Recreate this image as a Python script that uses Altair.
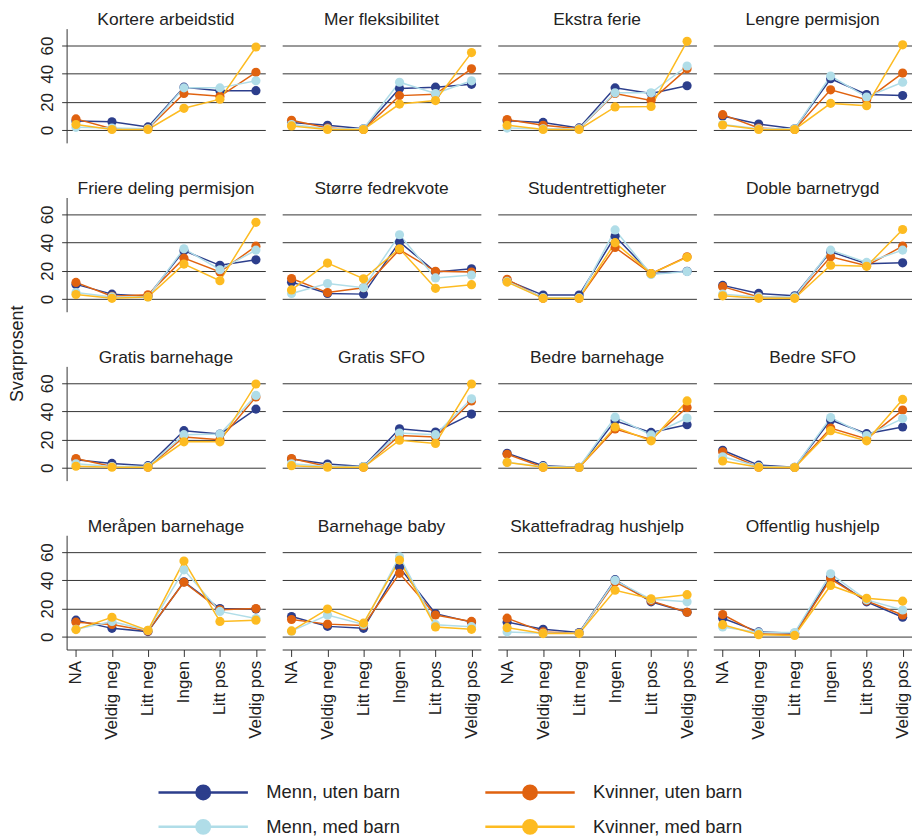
import altair as alt
import pandas as pd

categories = ["NA", "Veldig neg", "Litt neg", "Ingen", "Litt pos", "Veldig pos"]
panels = [
    "Kortere arbeidstid", "Mer fleksibilitet", "Ekstra ferie", "Lengre permisjon",
    "Friere deling permisjon", "Større fedrekvote", "Studentrettigheter", "Doble barnetrygd",
    "Gratis barnehage", "Gratis SFO", "Bedre barnehage", "Bedre SFO",
    "Meråpen barnehage", "Barnehage baby", "Skattefradrag hushjelp", "Offentlig hushjelp",
]
series = ["Menn, uten barn", "Kvinner, uten barn", "Menn, med barn", "Kvinner, med barn"]
legend_order = ["Menn, uten barn", "Menn, med barn", "Kvinner, uten barn", "Kvinner, med barn"]
legend_colors = ["#2c3e8c", "#b0dde8", "#e0620f", "#fdbb21"]

menn_uten = [
    [6.5, 6.0, 2.3, 30.5, 28.0, 28.0],
    [5.5, 3.5, 1.0, 29.5, 30.5, 32.5],
    [6.7, 5.5, 1.6, 30.0, 26.0, 31.5],
    [10.0, 4.4, 1.0, 36.5, 25.3, 24.6],
    [10.4, 3.5, 2.0, 34.3, 23.9, 27.8],
    [12.0, 4.0, 3.5, 40.5, 19.2, 21.5],
    [13.2, 2.8, 2.8, 44.5, 18.0, 19.7],
    [9.7, 4.0, 2.3, 33.6, 25.0, 25.7],
    [5.8, 3.2, 1.6, 26.4, 24.0, 41.7],
    [6.3, 2.8, 1.0, 27.8, 25.5, 38.2],
    [10.4, 1.6, 0.5, 33.4, 25.2, 30.6],
    [12.5, 2.0, 0.5, 34.0, 24.3, 29.0],
    [11.8, 6.0, 3.7, 39.0, 20.0, 19.7],
    [14.4, 7.4, 6.0, 49.3, 16.4, 10.4],
    [10.4, 5.3, 3.0, 40.5, 24.8, 17.4],
    [13.2, 3.5, 2.5, 42.4, 24.8, 13.9],
]
kvinner_uten = [
    [8.0, 1.0, 1.0, 26.0, 24.0, 41.0],
    [7.0, 1.5, 0.5, 24.5, 25.5, 43.5],
    [7.5, 3.5, 1.0, 26.0, 21.0, 43.5],
    [11.0, 1.5, 0.5, 28.6, 21.6, 40.5],
    [11.8, 2.0, 3.0, 29.0, 19.2, 37.5],
    [14.6, 4.6, 8.0, 35.0, 19.7, 19.2],
    [14.0, 0.5, 0.5, 36.6, 18.0, 30.0],
    [8.8, 1.5, 1.0, 30.0, 23.6, 37.5],
    [6.7, 1.0, 0.5, 22.0, 20.0, 50.3],
    [6.7, 1.0, 0.5, 23.0, 22.0, 47.5],
    [9.7, 0.5, 0.3, 27.6, 20.2, 42.9],
    [11.4, 0.5, 0.3, 28.3, 20.6, 41.0],
    [10.4, 8.8, 4.2, 38.7, 19.2, 20.0],
    [12.3, 9.0, 8.1, 45.0, 15.5, 10.9],
    [13.2, 3.5, 2.5, 38.9, 25.5, 17.4],
    [15.8, 2.3, 1.5, 41.0, 25.5, 15.5],
]
menn_med = [
    [2.0, 1.5, 1.0, 30.0, 30.0, 35.0],
    [4.0, 1.0, 1.0, 34.0, 26.0, 35.0],
    [1.5, 1.0, 1.0, 26.5, 26.5, 45.5],
    [4.0, 1.0, 1.0, 38.4, 23.5, 34.0],
    [4.6, 1.5, 1.5, 35.7, 20.8, 34.7],
    [4.0, 11.0, 8.0, 45.6, 15.0, 17.0],
    [12.5, 1.0, 1.0, 49.0, 17.4, 19.5],
    [3.5, 1.5, 1.5, 34.7, 26.0, 34.7],
    [3.0, 1.0, 1.0, 23.6, 24.0, 51.4],
    [3.0, 1.0, 1.0, 24.8, 23.6, 49.0],
    [4.0, 1.0, 0.5, 36.0, 23.4, 35.4],
    [7.9, 1.0, 0.5, 35.7, 23.0, 35.0],
    [5.3, 10.9, 4.6, 47.5, 18.0, 13.0],
    [4.0, 15.5, 8.8, 56.8, 8.6, 7.2],
    [3.5, 2.5, 2.5, 40.0, 26.6, 24.8],
    [7.0, 3.0, 3.0, 44.7, 26.2, 19.0],
]
kvinner_med = [
    [4.0, 0.5, 0.5, 15.5, 22.0, 59.0],
    [3.0, 0.5, 0.5, 18.5, 21.0, 55.0],
    [3.5, 0.5, 0.5, 16.5, 16.8, 63.0],
    [3.7, 0.5, 0.5, 19.0, 17.4, 60.5],
    [3.2, 0.5, 1.5, 24.8, 13.0, 54.4],
    [6.5, 25.5, 14.4, 35.7, 7.6, 10.2],
    [12.0, 0.5, 0.5, 40.0, 18.0, 29.6],
    [2.3, 0.5, 0.5, 24.0, 23.2, 49.3],
    [1.2, 0.5, 0.5, 18.5, 18.5, 59.5],
    [1.6, 0.5, 0.5, 19.7, 17.4, 59.5],
    [3.9, 0.5, 0.3, 29.0, 19.2, 47.5],
    [4.9, 0.5, 0.3, 26.4, 19.2, 48.6],
    [5.1, 13.9, 4.6, 53.7, 10.9, 11.8],
    [4.2, 19.7, 9.7, 54.4, 7.0, 5.3],
    [6.5, 2.3, 2.3, 33.0, 27.0, 29.9],
    [8.6, 1.5, 1.0, 36.4, 27.3, 25.3],
]

rows = []
for s_idx, (sname, vals) in enumerate(zip(series, [menn_uten, kvinner_uten, menn_med, kvinner_med])):
    for p_idx, pname in enumerate(panels):
        for c_idx, cat in enumerate(categories):
            rows.append({"panel": pname, "kategori": cat, "gruppe": sname,
                         "order": s_idx, "verdi": vals[p_idx][c_idx]})
df = pd.DataFrame(rows)

FONT = "Liberation Sans"

color_scale = alt.Scale(domain=legend_order, range=legend_colors)
x_enc = alt.X("kategori:N", sort=categories, title=None,
              scale=alt.Scale(type="point", padding=0.26),
              axis=alt.Axis(labelAngle=270, labelAlign="right", labelBaseline="middle",
                            labelFontSize=17, labelFont=FONT, labelColor="#222",
                            domainColor="#333", tickColor="#333", tickSize=7,
                            labelPadding=4, grid=False))
y_enc = alt.Y("verdi:Q", title=None,
              scale=alt.Scale(domain=[-9, 72], nice=False, zero=False),
              axis=alt.Axis(values=[0, 20, 40, 60], labelAngle=270, labelAlign="center",
                            labelBaseline="bottom", labelFontSize=17, labelFont=FONT,
                            labelColor="#222", labelPadding=5,
                            domainColor="#333", tickColor="#333", tickSize=5,
                            grid=True, gridColor="#333", gridWidth=1))

# legend symbol: a 90px line with a dot in the middle (path units = 10px at size 400)
legend = alt.Legend(
    title=None, orient="none", legendX=91, legendY=757, columns=2,
    symbolType="M-1,0L8,0M2.825,0A0.675,0.675,0,1,1,4.175,0A0.675,0.675,0,1,1,2.825,0Z",
    symbolSize=400, symbolStrokeWidth=2.5, labelFontSize=18.5, labelFont=FONT,
    labelColor="#222", labelOffset=87, columnPadding=80, rowPadding=10,
)

base = alt.Chart(df).encode(
    x=x_enc, y=y_enc,
    color=alt.Color("gruppe:N", scale=color_scale, sort=legend_order, legend=legend),
    detail="gruppe:N",
    order=alt.Order("order:Q"),
)
lines = base.mark_line(strokeWidth=1.5)
points = base.mark_circle(size=85, opacity=1)

chart = alt.layer(lines, points).properties(width=200, height=115).facet(
    facet=alt.Facet("panel:N", sort=panels, title=None,
                    header=alt.Header(labelFontSize=17.5, labelFont=FONT, labelColor="#222",
                                      labelPadding=0)),
    columns=4,
    spacing={"row": 37, "column": 17},
).properties(
    title=alt.TitleParams("Svarprosent", orient="left", anchor="middle", fontSize=18,
                          font=FONT, fontWeight="normal", color="#222", offset=12, dx=72),
    padding={"left": 0, "top": 0, "right": 0, "bottom": 0},
).configure_view(stroke=None).configure_axis(labelFont=FONT)

chart.save("out.html", embed_options={"renderer": "svg", "actions": False})
